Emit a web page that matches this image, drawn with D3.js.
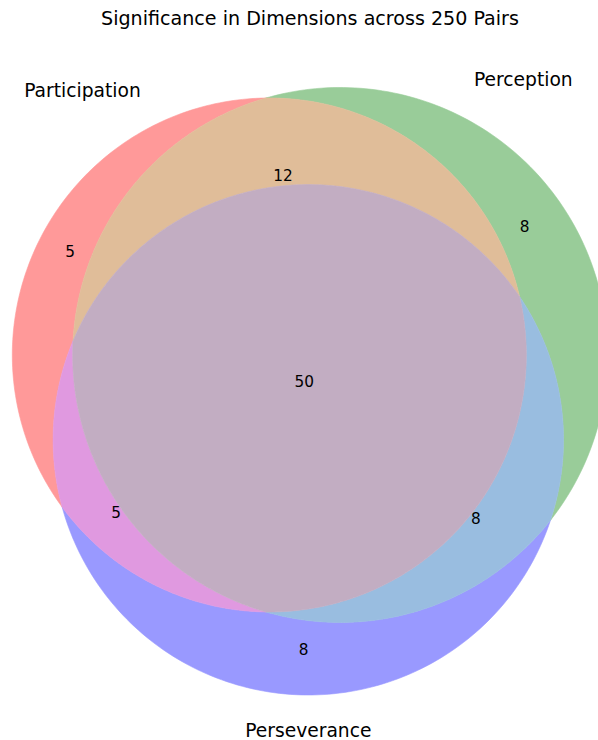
<!DOCTYPE html>
<html><head><meta charset="utf-8">
<script src="https://cdn.jsdelivr.net/npm/d3@7"></script>
<style>
body{margin:0;background:#fff}
svg{display:block}
text{font-family:"DejaVu Sans",sans-serif;fill:#000}
</style>
</head><body>
<svg id="chart" width="598" height="740"></svg>
<script>
// ---------------- data ----------------
const chartTitle = "Significance in Dimensions across 250 Pairs";
const setLabels = ["Participation", "Perception", "Perseverance"];
const subsetKeys = ["100", "010", "110", "001", "101", "011", "111"];
const subsetValues = [5, 8, 12, 8, 5, 8, 50];
const setColors = [[1, 0, 0], [0, 0.5, 0], [0, 0, 1]];
const alpha = 0.4;

// ---------------- layout (area-proportional, like matplotlib-venn) ----------------
function lensArea(r, R, d) {
  if (d >= r + R) return 0;
  if (d <= Math.abs(R - r)) return Math.PI * Math.min(r, R) ** 2;
  const a = r * r * Math.acos((d * d + r * r - R * R) / (2 * d * r));
  const b = R * R * Math.acos((d * d + R * R - r * r) / (2 * d * R));
  const c = 0.5 * Math.sqrt((-d + r + R) * (d + r - R) * (d - r + R) * (d + r + R));
  return a + b - c;
}
function distByArea(r, R, area) {
  let lo = Math.abs(R - r), hi = r + R;
  for (let k = 0; k < 200; k++) {
    const mid = (lo + hi) / 2;
    if (lensArea(r, R, mid) > area) lo = mid; else hi = mid;
  }
  return (lo + hi) / 2;
}
const total = d3.sum(subsetValues);
const ar = subsetValues.map(v => v / total);
const A_a = ar[0] + ar[2] + ar[4] + ar[6];
const A_b = ar[1] + ar[2] + ar[5] + ar[6];
const A_c = ar[3] + ar[4] + ar[5] + ar[6];
const A_ab = ar[2] + ar[6], A_bc = ar[5] + ar[6], A_ac = ar[4] + ar[6];
const radii = [A_a, A_b, A_c].map(a => Math.sqrt(a / Math.PI));
const dAB = distByArea(radii[0], radii[1], A_ab);
const dBC = distByArea(radii[1], radii[2], A_bc);
const dAC = distByArea(radii[2], radii[0], A_ac);
let centers = [[0, 0], [dAB, 0], [0, 0]];
const Cx = (dAC * dAC - dBC * dBC + dAB * dAB) / 2 / dAB;
centers[2] = [Cx, -Math.sqrt(dAC * dAC - Cx * Cx)];
{ // centre of mass normalisation
  const w = radii.map(r => r * r), sw = d3.sum(w);
  const mx = d3.sum(centers, (c, i) => c[0] * w[i]) / sw;
  const my = d3.sum(centers, (c, i) => c[1] * w[i]) / sw;
  centers = centers.map(c => [c[0] - mx, c[1] - my]);
}
const circles = centers.map((c, i) => ({x: c[0], y: c[1], r: radii[i]}));

const minX = d3.min(circles, c => c.x - c.r), maxX = d3.max(circles, c => c.x + c.r);
const minY = d3.min(circles, c => c.y - c.r), maxY = d3.max(circles, c => c.y + c.r);

// ---------------- scales ----------------
const K = 526;
const sx = d3.scaleLinear().domain([minX, minX + 1]).range([12.3, 12.3 + K]);
const sy = d3.scaleLinear().domain([minY, minY + 1]).range([695, 695 - K]);

// ---------------- regions ----------------
const pts = [];
const onCircle = [[], [], []];
[[0, 1], [1, 2], [0, 2]].forEach(([i, j]) => {
  const a = circles[i], b = circles[j];
  const dx = b.x - a.x, dy = b.y - a.y, d = Math.hypot(dx, dy);
  if (d >= a.r + b.r || d <= Math.abs(a.r - b.r)) return;
  const l = (a.r * a.r - b.r * b.r + d * d) / (2 * d);
  const h = Math.sqrt(a.r * a.r - l * l);
  const bx = a.x + l * dx / d, by = a.y + l * dy / d;
  [1, -1].forEach(s => {
    pts.push({x: bx - s * h * dy / d, y: by + s * h * dx / d});
    onCircle[i].push(pts.length - 1);
    onCircle[j].push(pts.length - 1);
  });
});
const inside = (k, p) => Math.hypot(p.x - circles[k].x, p.y - circles[k].y) < circles[k].r;
const regionArcs = {};
circles.forEach((c, i) => {
  const list = onCircle[i].map(id => ({id, t: Math.atan2(pts[id].y - c.y, pts[id].x - c.x)}))
    .sort((a, b) => a.t - b.t);
  list.forEach((s, k) => {
    const e = list[(k + 1) % list.length];
    let t0 = s.t, t1 = e.t;
    if (t1 <= t0) t1 += 2 * Math.PI;
    const tm = (t0 + t1) / 2;
    const mp = {x: c.x + c.r * Math.cos(tm), y: c.y + c.r * Math.sin(tm)};
    const bits = [0, 1, 2].map(k2 => k2 === i ? 1 : (inside(k2, mp) ? 1 : 0));
    const codeIn = bits.join("");
    bits[i] = 0;
    const codeOut = bits.join("");
    const arc = {c, t0, t1, p0: s.id, p1: e.id, mid: mp, len: c.r * (t1 - t0)};
    [codeIn, codeOut].forEach(code => {
      if (code !== "000") (regionArcs[code] = regionArcs[code] || []).push(arc);
    });
  });
});
function sampleArc(a, rev, out) {
  const n = 120;
  for (let k = 0; k <= n; k++) {
    const f = rev ? 1 - k / n : k / n;
    const t = a.t0 + (a.t1 - a.t0) * f;
    out.push([sx(a.c.x + a.c.r * Math.cos(t)), sy(a.c.y + a.c.r * Math.sin(t))]);
  }
}
function regionPolygon(arcs) {
  const out = [], used = new Set([0]);
  sampleArc(arcs[0], false, out);
  const start = arcs[0].p0;
  let end = arcs[0].p1;
  while (end !== start && used.size < arcs.length) {
    const idx = arcs.findIndex((a, k) => !used.has(k) && (a.p0 === end || a.p1 === end));
    if (idx < 0) break;
    const a = arcs[idx];
    used.add(idx);
    if (a.p0 === end) { sampleArc(a, false, out); end = a.p1; }
    else { sampleArc(a, true, out); end = a.p0; }
  }
  return out;
}
function regionColor(code) {
  const on = setColors.filter((_, i) => code[i] === "1");
  const f = on.length === 1 ? 1 : on.length === 2 ? 0.7 : 0.4;
  const mix = [0, 1, 2].map(ch => Math.min(1, f * d3.sum(on, c => c[ch])));
  const bl = mix.map(v => Math.round(255 * (alpha * v + (1 - alpha))));
  return d3.rgb(bl[0], bl[1], bl[2]).formatHex();
}

const svg = d3.select("#chart");
const line = d3.line();
const regions = subsetKeys.filter(k => regionArcs[k]).map(k => {
  const arcs = regionArcs[k];
  const L = d3.sum(arcs, a => a.len);
  return {
    key: k,
    value: subsetValues[subsetKeys.indexOf(k)],
    poly: regionPolygon(arcs),
    lx: d3.sum(arcs, a => a.mid.x * a.len) / L,
    ly: d3.sum(arcs, a => a.mid.y * a.len) / L,
    color: regionColor(k)
  };
});

svg.append("g").selectAll("path").data(regions).join("path")
  .attr("d", d => line(d.poly) + "Z")
  .attr("fill", d => d.color)
  .attr("stroke", d => d.color)
  .attr("stroke-width", 0.6);

const fsR = 15.3;
svg.append("g").selectAll("text").data(regions).join("text")
  .attr("x", d => sx(d.lx))
  .attr("y", d => sy(d.ly) + 0.262 * fsR)
  .attr("text-anchor", "middle")
  .attr("font-size", fsR)
  .text(d => d.value);

// set labels
const fsL = 18.7, fsT = 19.1;
const pad = d3.mean(radii, r => r * 0.1);
const c0 = circles[0], c1 = circles[1], c2 = circles[2];
svg.append("text").attr("x", sx(c0.x - c0.r / 2)).attr("y", sy(c0.y + c0.r) - 1)
  .attr("text-anchor", "end").attr("font-size", fsL).text(setLabels[0]);
svg.append("text").attr("x", sx(c1.x + c1.r / 2)).attr("y", sy(c1.y + c1.r) - 1)
  .attr("text-anchor", "start").attr("font-size", fsL).text(setLabels[1]);
svg.append("text").attr("x", sx(c2.x)).attr("y", sy(c2.y - c2.r - pad) + 0.84 * fsL)
  .attr("text-anchor", "middle").attr("font-size", fsL).text(setLabels[2]);

// title
svg.append("text").attr("x", sx((minX + maxX) / 2)).attr("y", sy(maxY + 0.1) - 9.8)
  .attr("text-anchor", "middle").attr("font-size", fsT).text(chartTitle);
</script>
</body></html>
